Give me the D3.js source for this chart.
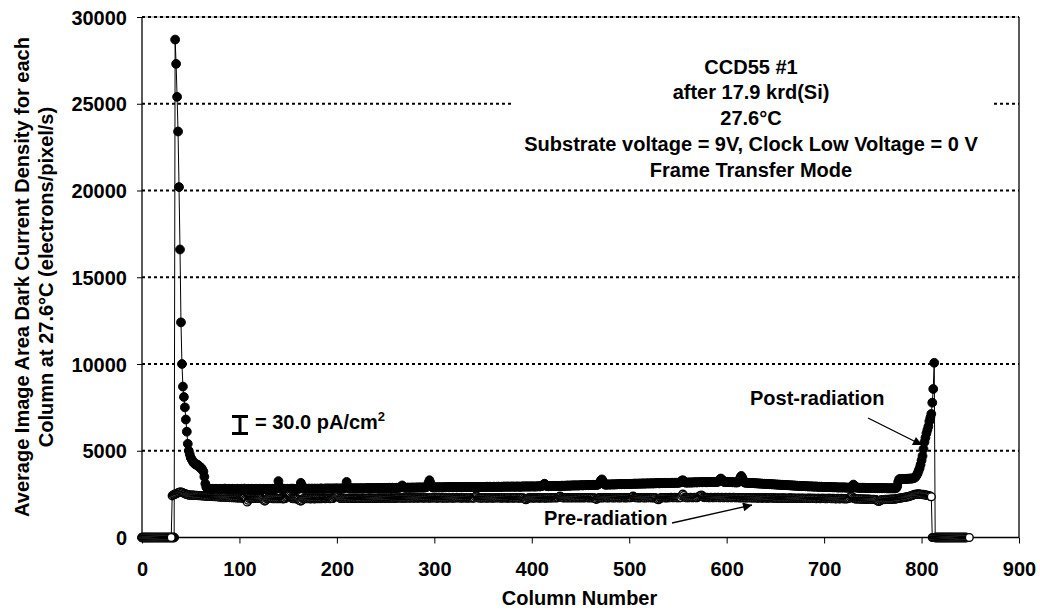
<!DOCTYPE html>
<html><head><meta charset="utf-8">
<script src="https://cdn.jsdelivr.net/npm/d3@7"></script>
<style>
body{margin:0;background:#fff}
svg{display:block}
text{font-family:"Liberation Sans",Arial,sans-serif;font-weight:bold;fill:#000}
</style>
</head><body>
<svg id="chart" width="1040" height="611"></svg>
<script>
const xTicks=[0,100,200,300,400,500,600,700,800,900];
const yTicks=[0,5000,10000,15000,20000,25000,30000];
const xTitle="Column Number";
const yTitleLines=["Average Image Area Dark Current Density for each","Column at 27.6°C (electrons/pixel/s)"];
const infoLines=["CCD55 #1","after 17.9 krd(Si)","27.6°C","Substrate voltage = 9V, Clock Low Voltage = 0 V","Frame Transfer Mode"];
const seriesNames=["Post-radiation","Pre-radiation"];

// Post-radiation: one value per column, starting at column 0
const postValues=[
0,0,0,0,0,0,0,0,0,0,
0,0,0,0,0,0,0,0,0,0,
0,0,0,0,0,0,0,0,0,0,
0,0,0,0,28700,27300,25400,23400,20200,16600,
12400,10000,8700,8100,7500,6800,6100,5400,5000,4800,
4600,4500,4400,4300,4300,4200,4200,4200,4100,4100,
4000,4000,3900,3800,3500,3100,2900,2850,2820,2800,
2800,2790,2810,2800,2790,2800,2810,2800,2790,2800,
2800,2810,2790,2800,2800,2820,2800,2790,2800,2810,
2800,2790,2800,2810,2800,2800,2790,2800,2810,2800,
2800,2790,2810,2800,2800,2820,2790,2800,2800,2810,
2790,2800,2810,2800,2790,2800,2800,2810,2800,2790,
2800,2810,2800,2800,2790,2810,2800,2800,2790,2800,
2810,2800,2790,2800,2810,2800,2800,2790,2820,2900,
3250,2950,2810,2800,2800,2790,2810,2800,2800,2810,
2800,2790,2810,2800,2820,2800,2810,2800,2790,2810,
2820,2800,2900,3150,3000,2820,2810,2800,2820,2810,
2800,2820,2810,2800,2820,2810,2800,2820,2810,2800,
2820,2810,2800,2820,2830,2810,2800,2820,2810,2830,
2820,2810,2830,2820,2810,2820,2830,2810,2820,2830,
2820,2830,2810,2820,2830,2820,2810,2830,2850,2950,
3200,2950,2840,2830,2820,2840,2830,2820,2840,2830,
2830,2840,2820,2830,2840,2830,2840,2820,2830,2840,
2840,2830,2850,2840,2830,2850,2840,2830,2850,2840,
2850,2840,2850,2860,2840,2850,2860,2850,2840,2860,
2850,2860,2850,2860,2870,2850,2860,2870,2860,2850,
2860,2870,2860,2870,2860,2880,2920,3000,2920,2870,
2870,2860,2870,2880,2870,2860,2880,2870,2880,2870,
2880,2870,2880,2890,2870,2880,2890,2880,2870,2890,
2880,2890,2900,2950,3150,3300,3150,2950,2890,2880,
2890,2880,2890,2900,2880,2890,2900,2890,2880,2900,
2890,2900,2890,2900,2910,2890,2900,2910,2900,2890,
2900,2910,2900,2890,2910,2900,2910,2900,2890,2910,
2900,2910,2920,2900,2910,2920,2910,2900,2920,2910,
2910,2920,2910,2900,2920,2910,2920,2910,2900,2920,
2910,2920,2910,2920,2930,2910,2920,2930,2920,2910,
2920,2930,2920,2910,2930,2920,2930,2920,2910,2930,
2920,2930,2940,2920,2930,2940,2930,2920,2940,2930,
2930,2940,2930,2920,2940,2930,2940,2930,2920,2940,
2930,2940,2950,2930,2940,2950,2940,2930,2950,2940,
2940,2950,2940,2930,2950,2940,2950,2960,2940,2950,
2960,2980,3050,3100,3050,2980,2960,2950,2960,2970,
2960,2970,2980,2960,2970,2980,2970,2960,2980,2970,
2980,2990,2970,2980,2990,2980,2990,3000,2980,2990,
3000,2990,3000,3010,2990,3000,3010,3000,2990,3010,
3010,3020,3000,3010,3020,3010,3020,3030,3010,3020,
3030,3020,3030,3040,3020,3030,3040,3030,3050,3100,
3200,3300,3350,3250,3100,3050,3040,3050,3060,3050,
3060,3050,3060,3070,3050,3060,3070,3060,3070,3080,
3070,3080,3070,3080,3090,3070,3080,3090,3080,3090,
3090,3080,3090,3100,3090,3100,3110,3090,3100,3110,
3100,3110,3100,3110,3120,3100,3110,3120,3110,3120,
3120,3110,3120,3130,3110,3120,3130,3120,3130,3140,
3130,3120,3130,3140,3130,3140,3150,3130,3140,3150,
3140,3150,3140,3150,3160,3140,3150,3160,3150,3160,
3150,3160,3170,3200,3280,3300,3250,3180,3160,3170,
3160,3170,3180,3160,3170,3180,3170,3180,3190,3170,
3180,3190,3180,3190,3200,3180,3190,3200,3190,3180,
3190,3200,3190,3200,3210,3190,3200,3210,3200,3210,
3200,3210,3250,3350,3400,3350,3250,3210,3200,3210,
3200,3210,3200,3190,3200,3190,3180,3190,3180,3170,
3180,3170,3200,3300,3450,3550,3450,3300,3180,3160,
3150,3160,3150,3140,3150,3140,3130,3140,3130,3120,
3130,3120,3110,3120,3110,3100,3110,3100,3090,3100,
3090,3080,3090,3080,3070,3080,3070,3060,3070,3060,
3050,3060,3050,3040,3050,3040,3030,3040,3030,3020,
3030,3020,3010,3020,3010,3000,3010,3000,2990,3000,
2990,2980,2990,2980,2970,2980,2970,2960,2970,2960,
2960,2950,2960,2950,2940,2950,2940,2950,2940,2930,
2940,2930,2940,2930,2920,2930,2920,2930,2920,2910,
2920,2910,2920,2910,2900,2910,2900,2910,2900,2890,
2900,2890,2900,2890,2880,2890,2880,2890,2880,2890,
2880,2890,2880,2870,2880,2870,2880,2870,2880,2950,
3050,3000,2900,2870,2880,2870,2860,2870,2860,2870,
2860,2870,2860,2850,2860,2850,2860,2850,2860,2850,
2850,2860,2850,2840,2850,2840,2850,2840,2850,2840,
2840,2850,2840,2850,2840,2830,2840,2830,2840,2830,
2840,2830,2840,2830,2850,2950,3200,3350,3380,3370,
3380,3370,3380,3370,3380,3390,3380,3390,3400,3390,
3400,3410,3420,3450,3500,3600,3700,3850,4000,4200,
4450,4700,5100,5500,5750,6000,6200,6400,6700,6900,
7120,7770,8560,10070,0,0,0,0,0,0,
0,0,0,0,0,0,0,0,0,0,
0,0,0,0,0,0,0,0,0,0,
0,0,0,0,0,0,0
];

// Pre-radiation: one value per column, starting at column 0
const preValues=[
0,0,0,0,0,0,0,0,0,0,
0,0,0,0,0,0,0,0,0,0,
0,0,0,0,0,0,0,0,0,0,
0,2400,2450,2480,2500,2520,2550,2580,2600,2620,
2620,2600,2580,2550,2530,2500,2480,2460,2450,2440,
2450,2440,2430,2440,2430,2420,2430,2420,2410,2420,
2410,2400,2410,2400,2390,2400,2390,2380,2390,2380,
2370,2380,2370,2360,2370,2360,2350,2360,2350,2340,
2340,2330,2340,2330,2320,2330,2320,2310,2320,2310,
2300,2310,2300,2290,2300,2290,2300,2280,2290,2280,
2280,2290,2270,2280,2270,2260,2200,2150,2050,2150,
2250,2270,2280,2270,2260,2270,2260,2270,2260,2250,
2260,2250,2260,2250,2200,2150,2100,2150,2230,2250,
2260,2250,2260,2250,2240,2250,2240,2250,2240,2250,
2240,2250,2240,2250,2240,2230,2240,2250,2300,2350,
2400,2420,2380,2300,2250,2240,2250,2240,2230,2240,
2220,2180,2120,2100,2150,2230,2240,2250,2240,2250,
2240,2250,2240,2230,2240,2250,2240,2230,2240,2250,
2240,2250,2240,2250,2240,2250,2260,2250,2240,2250,
2250,2260,2250,2240,2250,2260,2250,2300,2350,2380,
2400,2380,2330,2270,2250,2260,2250,2260,2250,2260,
2260,2250,2260,2270,2260,2250,2260,2270,2260,2270,
2260,2270,2260,2250,2260,2270,2260,2270,2260,2250,
2260,2270,2260,2270,2280,2260,2270,2260,2270,2260,
2270,2260,2270,2280,2270,2260,2270,2280,2270,2260,
2270,2280,2270,2260,2270,2280,2270,2280,2270,2260,
2270,2280,2270,2280,2290,2270,2280,2270,2280,2270,
2280,2270,2280,2290,2280,2270,2280,2290,2280,2270,
2280,2290,2280,2270,2280,2290,2280,2290,2280,2270,
2280,2290,2280,2290,2280,2270,2280,2290,2280,2290,
2280,2290,2280,2270,2280,2290,2280,2290,2280,2270,
2280,2290,2280,2270,2280,2290,2280,2290,2280,2270,
2280,2290,2280,2290,2300,2280,2290,2280,2270,2280,
2290,2280,2290,2280,2270,2280,2290,2280,2290,2280,
2270,2280,2350,2400,2350,2280,2290,2280,2270,2280,
2290,2280,2290,2280,2270,2280,2290,2280,2290,2280,
2270,2280,2290,2280,2290,2300,2280,2290,2280,2270,
2280,2290,2280,2290,2280,2270,2280,2290,2280,2290,
2280,2270,2280,2290,2280,2290,2280,2270,2280,2290,
2280,2290,2250,2200,2180,2220,2270,2280,2290,2280,
2290,2280,2270,2280,2290,2280,2290,2280,2270,2280,
2290,2280,2290,2280,2270,2280,2290,2280,2290,2280,
2290,2280,2290,2300,2290,2280,2290,2300,2350,2380,
2350,2300,2290,2280,2290,2300,2290,2280,2290,2300,
2290,2280,2290,2300,2290,2280,2290,2300,2290,2280,
2290,2300,2290,2280,2290,2300,2290,2300,2290,2280,
2290,2300,2290,2280,2290,2250,2200,2220,2270,2290,
2300,2290,2280,2290,2300,2290,2300,2290,2280,2290,
2300,2290,2300,2290,2280,2290,2300,2290,2300,2290,
2280,2290,2300,2290,2300,2290,2280,2290,2300,2290,
2300,2290,2300,2340,2380,2340,2300,2290,2300,2290,
2280,2290,2300,2290,2300,2290,2280,2290,2300,2290,
2300,2290,2300,2290,2280,2290,2300,2290,2250,2200,
2180,2220,2280,2290,2300,2290,2300,2290,2280,2290,
2300,2290,2300,2310,2300,2290,2300,2310,2300,2290,
2290,2300,2290,2300,2400,2500,2420,2320,2300,2290,
2300,2290,2300,2310,2300,2290,2300,2310,2300,2290,
2300,2350,2380,2420,2450,2400,2330,2300,2310,2300,
2310,2300,2290,2300,2310,2300,2290,2300,2310,2300,
2300,2310,2300,2290,2300,2310,2300,2290,2300,2310,
2300,2290,2300,2310,2300,2290,2300,2310,2300,2290,
2300,2290,2300,2290,2280,2290,2300,2290,2280,2290,
2290,2280,2290,2300,2290,2280,2290,2280,2290,2280,
2290,2280,2270,2280,2290,2280,2270,2280,2290,2280,
2280,2270,2280,2270,2280,2290,2280,2270,2280,2270,
2280,2270,2260,2270,2280,2270,2260,2270,2280,2270,
2270,2260,2270,2260,2270,2280,2270,2260,2270,2260,
2270,2260,2250,2260,2270,2260,2250,2260,2270,2260,
2260,2250,2260,2250,2260,2270,2260,2250,2260,2250,
2260,2250,2240,2250,2260,2250,2240,2250,2260,2250,
2250,2240,2250,2240,2250,2260,2250,2240,2250,2240,
2250,2240,2230,2240,2250,2240,2230,2240,2250,2240,
2240,2230,2240,2230,2240,2250,2280,2330,2380,2350,
2280,2240,2230,2220,2230,2220,2230,2220,2210,2220,
2210,2220,2210,2200,2210,2200,2210,2200,2190,2200,
2190,2200,2190,2180,2150,2100,2080,2100,2150,2180,
2190,2180,2190,2200,2190,2200,2190,2200,2210,2200,
2210,2220,2210,2220,2230,2240,2250,2260,2270,2280,
2290,2300,2310,2320,2330,2340,2350,2360,2380,2400,
2420,2440,2460,2480,2490,2500,2500,2510,2500,2490,
2480,2470,2480,2460,2450,2440,2430,2420,2400,2380,
2350,0,0,0,0,0,0,0,0,0,
0,0,0,0,0,0,0,0,0,0,
0,0,0,0,0,0,0,0,0,0,
0,0,0,0,0,0,0,0,0,0
];

const plot={left:142,right:1019,top:17,bottom:537.5};
const svg=d3.select("#chart");
const x=d3.scaleLinear().domain([0,900]).range([plot.left,plot.right]);
const y=d3.scaleLinear().domain([0,30000]).range([plot.bottom,plot.top]);

svg.append("line").attr("x1",plot.left).attr("x2",plot.right).attr("y1",plot.top).attr("y2",plot.top)
  .attr("stroke","#999").attr("stroke-width",1);
svg.append("line").attr("x1",plot.right).attr("x2",plot.right).attr("y1",plot.top).attr("y2",plot.bottom)
  .attr("stroke","#000").attr("stroke-width",1.3);

svg.append("g").selectAll("line").data(yTicks.filter(d=>d>0)).join("line")
  .attr("x1",plot.left).attr("x2",plot.right)
  .attr("y1",d=>y(d)).attr("y2",d=>y(d))
  .attr("stroke","#000").attr("stroke-width",2).attr("stroke-dasharray","3,3");

svg.append("rect").attr("x",513).attr("y",48).attr("width",478).attr("height",136).attr("fill","#fff");
svg.append("g").selectAll("text").data(infoLines).join("text")
  .attr("x",751).attr("y",(d,i)=>73.5+i*25.8).attr("text-anchor","middle")
  .attr("font-size",20).text(d=>d);

const yAxis=d3.axisLeft(y).tickValues(yTicks).tickSize(5).tickPadding(10).tickFormat(d=>String(d));
const gy=svg.append("g").attr("transform",`translate(${plot.left},0)`).call(yAxis);
gy.select(".domain").remove();
gy.selectAll(".tick line").attr("stroke","#000");
gy.selectAll(".tick text").attr("font-size",20).attr("font-family","Liberation Sans, Arial, sans-serif").attr("font-weight","bold").attr("dy","0.35em");
svg.append("line").attr("x1",plot.left).attr("x2",plot.left).attr("y1",plot.top).attr("y2",plot.bottom).attr("stroke","#000").attr("stroke-width",1.3);

const xAxis=d3.axisBottom(x).tickValues(xTicks).tickSize(6).tickPadding(18).tickFormat(d=>String(d));
const gx=svg.append("g").attr("transform",`translate(0,${plot.bottom})`).call(xAxis);
gx.select(".domain").remove();
gx.selectAll(".tick line").attr("stroke","#000");
gx.selectAll(".tick text").attr("font-size",20).attr("font-family","Liberation Sans, Arial, sans-serif").attr("font-weight","bold").attr("dy","0.71em");
svg.append("line").attr("x1",plot.left).attr("x2",plot.right).attr("y1",plot.bottom).attr("y2",plot.bottom).attr("stroke","#000").attr("stroke-width",1.3);

svg.append("text").attr("x",(plot.left+plot.right)/2-1).attr("y",605).attr("text-anchor","middle").attr("font-size",20).text(xTitle);
svg.append("g").attr("transform","translate(0,277) rotate(-90)")
  .selectAll("text").data(yTitleLines).join("text")
  .attr("x",0).attr("y",(d,i)=>29+i*24).attr("text-anchor","middle").attr("font-size",20).text(d=>d);

const postData=postValues.map((v,i)=>[i,v]);
const preData=preValues.map((v,i)=>[i,v]);
const line=d3.line().x(d=>x(d[0])).y(d=>y(d[1]));

svg.append("path").datum(postData).attr("d",line).attr("fill","none").attr("stroke","#000").attr("stroke-width",1);
svg.append("g").selectAll("circle").data(postData).join("circle")
  .attr("cx",d=>x(d[0])).attr("cy",d=>y(d[1])).attr("r",4.4).attr("fill","#000").attr("stroke","#000").attr("stroke-width",1);

svg.append("path").datum(preData).attr("d",line).attr("fill","none").attr("stroke","#000").attr("stroke-width",1);
svg.append("g").selectAll("circle").data(preData).join("circle")
  .attr("cx",d=>x(d[0])).attr("cy",d=>y(d[1])).attr("r",3.9).attr("fill","#fff").attr("stroke","#000").attr("stroke-width",1.4);

const ib=svg.append("g").attr("stroke","#000").attr("stroke-width",3);
ib.append("line").attr("x1",240).attr("x2",240).attr("y1",416).attr("y2",434);
ib.append("line").attr("x1",232).attr("x2",248).attr("y1",416.5).attr("y2",416.5);
ib.append("line").attr("x1",232).attr("x2",248).attr("y1",433.5).attr("y2",433.5);
const ann=svg.append("text").attr("x",255).attr("y",428.5).attr("font-size",20);
ann.append("tspan").text("= 30.0 pA/cm");
ann.append("tspan").attr("font-size",13).attr("dy",-8).text("2");

svg.append("text").attr("x",750).attr("y",405).attr("font-size",20).text(seriesNames[0]);
svg.append("text").attr("x",544).attr("y",525).attr("font-size",20).text(seriesNames[1]);

svg.append("defs").append("marker").attr("id","ah").attr("viewBox","0 0 10 10").attr("refX",10).attr("refY",5)
  .attr("markerWidth",13).attr("markerHeight",9).attr("markerUnits","userSpaceOnUse").attr("orient","auto")
  .append("path").attr("d","M0,0L10,5L0,10z").attr("fill","#000");
svg.append("line").attr("x1",868).attr("y1",418).attr("x2",922).attr("y2",445).attr("stroke","#000").attr("stroke-width",1.3).attr("marker-end","url(#ah)");
svg.append("line").attr("x1",672).attr("y1",523).attr("x2",752).attr("y2",505).attr("stroke","#000").attr("stroke-width",1.3).attr("marker-end","url(#ah)");
</script>
</body></html>
